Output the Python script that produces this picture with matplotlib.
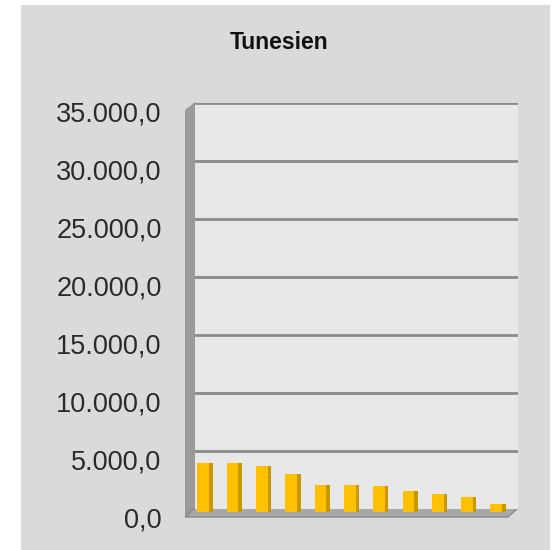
import matplotlib
matplotlib.use("Agg")
import matplotlib.pyplot as plt
from matplotlib.patches import Rectangle, Polygon
from matplotlib.transforms import ScaledTranslation
import numpy as np

title = "Tunesien"
values = [4000, 3950, 3700, 3000, 2050, 2050, 1950, 1550, 1250, 1050, 400]
yticks = [0, 5000, 10000, 15000, 20000, 25000, 30000, 35000]
ytick_labels = ["0,0", "5.000,0", "10.000,0", "15.000,0", "20.000,0",
                "25.000,0", "30.000,0", "35.000,0"]

W, H = 557, 550
fig = plt.figure(figsize=(W / 100, H / 100), dpi=100)
fig.patch.set_facecolor("white")

def f(x, y):
    return (x / W, 1 - y / H)

# gray panel
fig.patches.append(Rectangle(f(21, 550), 529 / W, 545 / H, transform=fig.transFigure,
                             facecolor="#dadada", edgecolor="none", zorder=0))

# left wall and floor
fig.patches.append(Polygon([f(185, 110), f(195, 102), f(195, 509), f(185, 517)],
                           closed=True, transform=fig.transFigure,
                           facecolor="#9a9a9a", edgecolor="none", zorder=1))
fig.patches.append(Polygon([f(185, 517), f(195, 508), f(518, 508), f(508, 517)],
                           closed=True, transform=fig.transFigure,
                           facecolor="#a8a8a8", edgecolor="#8a8a8a", linewidth=1, zorder=1))

ax = fig.add_axes([195 / W, (H - 509) / H, (518 - 195) / W, (509 - 102.7) / H])
ax.set_facecolor("#e8e8e8")
ax.set_zorder(2)

x = np.arange(len(values))
ax.set_xlim(-0.34, len(values) - 1 + 0.68)
ax.set_ylim(0, 35000)

for t in yticks[1:]:
    ax.axhline(t, color="#8a8a8a", linewidth=2, zorder=1)

base = -300
vals = np.array(values)
ax.bar(x, vals - base, bottom=base, width=0.52, color="#FFC000", edgecolor="none",
       zorder=3, clip_on=False)
ax.bar(x + 0.2, vals - base, bottom=base, width=0.12, color="#C99700", edgecolor="none",
       zorder=4, clip_on=False)

for s in ax.spines.values():
    s.set_visible(False)
ax.set_xticks([])
ax.set_yticks(yticks)
ax.set_yticklabels(ytick_labels, fontsize=19.5, family="Liberation Sans", color="#2a2a2a")
ax.tick_params(axis="y", length=0, pad=24)
for lab in ax.get_yticklabels():
    lab.set_transform(lab.get_transform() + ScaledTranslation(0, -6.3 / 72, fig.dpi_scale_trans))

fig.text(279 / W, 1 - 49 / H, title, ha="center", va="baseline", fontsize=16.5,
         fontweight="bold", family="Liberation Sans", color="#111111")

fig.savefig("out.png", dpi=100)
